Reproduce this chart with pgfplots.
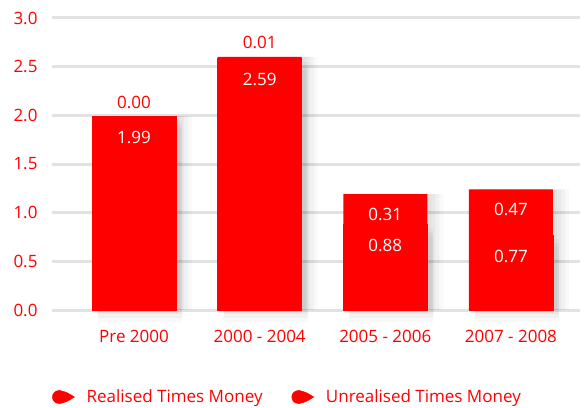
\documentclass[border=0pt]{standalone}
\usepackage{fontspec}
\setmainfont{Open Sans}
\usepackage{pgfplots}
\usepackage{pgfplotstable}
\pgfplotsset{compat=1.18}
\definecolor{barred}{RGB}{255,0,0}
\definecolor{gridgray}{RGB}{226,226,226}

% stepped soft shadow: translucent copies of each bar shifted right (and down)
\tikzset{
  shadowright/.style={
    preaction={fill=black, fill opacity=0.035, draw=none, transform canvas={xshift=4bp}},
    preaction={fill=black, fill opacity=0.035, draw=none, transform canvas={xshift=8bp}},
    preaction={fill=black, fill opacity=0.03, draw=none, transform canvas={xshift=12bp}},
    preaction={fill=black, fill opacity=0.025, draw=none, transform canvas={xshift=16bp}}},
  shadowdown/.style={
    preaction={fill=black, fill opacity=0.035, draw=none, transform canvas={xshift=6bp, yshift=-4bp}},
    preaction={fill=black, fill opacity=0.03, draw=none, transform canvas={xshift=6bp, yshift=-8bp}},
    preaction={fill=black, fill opacity=0.025, draw=none, transform canvas={xshift=6bp, yshift=-12bp}}},
}

% realised / unrealised times money per vintage
% ushift: label offset from bar top (bp), uwhite: 100 = white label inside bar
\pgfplotstableread{
x real unreal ushift uwhite
0 1.99 0.001 14 0
1 2.59 0.01 14 0
2 0.88 0.31 -20 100
3 0.77 0.47 -20 100
}\datatable

\newcommand{\dropmark}{%
  \fill[barred] (6.5bp,0bp) circle[radius=6.5bp];
  \fill[barred] (7bp,6.5bp) .. controls (14bp,5bp) .. (22bp,0bp)
    .. controls (14bp,-5bp) .. (7bp,-6.5bp) -- cycle;}

\begin{document}
\begin{tikzpicture}
\path[use as bounding box] (-52bp,-98bp) rectangle (535bp,310bp);
\begin{axis}[
    at={(0,0)}, anchor=south west,
    scale only axis, width=528bp, height=292bp,
    xmin=-0.653, xmax=3.55, ymin=0, ymax=3,
    clip=false,
    ybar stacked, bar width=84bp,
    axis line style={draw=none}, major tick length=0pt,
    ytick={0,0.5,1,1.5,2,2.5,3},
    ymajorgrids, grid style={gridgray, line width=3bp},
    xtick={0,1,2,3},
    xticklabels={Pre 2000, 2000 - 2004, 2005 - 2006, 2007 - 2008},
    ticklabel style={text=barred, font=\fontsize{17bp}{20bp}\selectfont},
    yticklabel style={xshift=-11bp},
    yticklabel style={/pgf/number format/fixed, /pgf/number format/fixed zerofill,
        /pgf/number format/precision=1, /pgf/number format/assume math mode=true},
    xticklabel style={yshift=-17bp},
    nodes near coords={\pgfmathprintnumber[fixed, fixed zerofill, precision=2,
        assume math mode=true]{\pgfplotspointmeta}},
    legend columns=2,
    legend style={at={(0,-0.298)}, anchor=west, draw=none, fill=none,
        text=barred, font=\fontsize{17bp}{20bp}\selectfont, inner sep=0pt,
        /tikz/every odd column/.append style={column sep=10bp},
        /tikz/every even column/.append style={column sep=27bp}},
]
\addplot[fill=barred, draw=barred, line width=0.8bp, point meta=explicit,
    shadowdown, shadowright,
    visualization depends on={\thisrow{real} \as \rv},
    nodes near coords style={anchor=center, yshift={\rv*48.667bp-21.5bp}, text=white,
        font=\fontsize{17bp}{20bp}\selectfont},
    forget plot]
    table[x=x, y=real, meta=real] {\datatable};
\addplot[fill=barred, draw=none, point meta=explicit,
    shadowright,
    visualization depends on={\thisrow{unreal} \as \uv},
    visualization depends on={\thisrow{ushift} \as \ushift},
    visualization depends on={\thisrow{uwhite} \as \uwhite},
    nodes near coords style={anchor=center, yshift={\uv*48.667bp+\ushift bp},
        text=white!\uwhite!barred, font=\fontsize{17bp}{20bp}\selectfont},
    forget plot]
    table[x=x, y=unreal, meta=unreal] {\datatable};
\addlegendimage{legend image code/.code={\dropmark}}
\addlegendentry{Realised Times Money}
\addlegendimage{legend image code/.code={\dropmark}}
\addlegendentry{Unrealised Times Money}
\end{axis}
\end{tikzpicture}
\end{document}
